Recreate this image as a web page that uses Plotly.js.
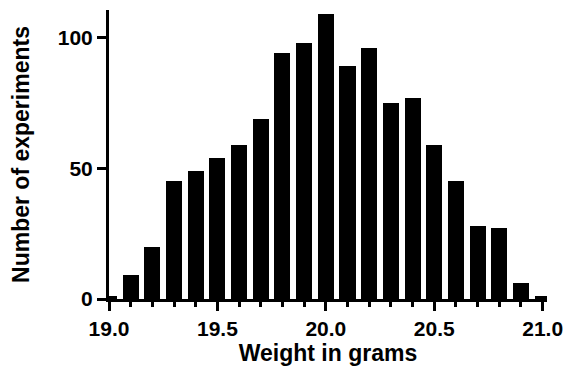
<!DOCTYPE html>
<html>
<head>
<meta charset="utf-8">
<script src="https://cdn.plot.ly/plotly-3.0.1.min.js"></script>
<style>html,body{margin:0;padding:0;background:#fff;}#chart{width:564px;height:366px;}</style>
</head>
<body>
<div id="chart"></div>
<script>
var weights = [19.0, 19.1, 19.2, 19.3, 19.4, 19.5, 19.6, 19.7, 19.8, 19.9, 20.0,
               20.1, 20.2, 20.3, 20.4, 20.5, 20.6, 20.7, 20.8, 20.9, 21.0];
var counts  = [1, 9, 20, 45, 49, 54, 59, 69, 94, 98, 109,
               89, 96, 75, 77, 59, 45, 28, 27, 6, 1];
var xTickVals = [19.0, 19.5, 20.0, 20.5, 21.0];
var xTickText = ['19.0', '19.5', '20.0', '20.5', '21.0'];
var yTickVals = [0, 50, 100];
var yTickText = ['0', '50', '100'];

var font = 'Liberation Sans, Arial, sans-serif';

var trace = {
  type: 'bar',
  x: weights,
  y: counts,
  width: 0.074,
  marker: {color: '#000000', line: {width: 0}},
  hoverinfo: 'x+y'
};

var layout = {
  width: 564,
  height: 366,
  margin: {l: 109, r: 17, t: 10, b: 67},
  paper_bgcolor: '#ffffff',
  plot_bgcolor: '#ffffff',
  showlegend: false,
  bargap: 0,
  font: {family: font, color: '#000000'},
  xaxis: {
    range: [19.0, 21.02],
    showgrid: false,
    zeroline: false,
    showline: true,
    linewidth: 3,
    linecolor: '#000000',
    ticks: 'outside',
    ticklen: 9,
    tickwidth: 3,
    tickcolor: '#000000',
    tickvals: xTickVals,
    ticktext: xTickText,
    ticklabeloverflow: 'allow',
    tickfont: {family: font, size: 21, color: '#000000', weight: 'bold'},
    minor: {dtick: 0.1, tick0: 19.0, ticks: 'outside', ticklen: 5, tickwidth: 3, tickcolor: '#000000', showgrid: false},
    title: {text: '<b>Weight in grams</b>', font: {family: font, size: 23, color: '#000000'}, standoff: 16}
  },
  yaxis: {
    range: [0, 110.6],
    showgrid: false,
    zeroline: false,
    showline: true,
    linewidth: 3,
    linecolor: '#000000',
    ticks: 'outside',
    ticklen: 9,
    tickwidth: 3,
    tickcolor: '#000000',
    tickvals: yTickVals,
    ticktext: yTickText,
    tickfont: {family: font, size: 21, color: '#000000', weight: 'bold'},
    title: {text: '<b>Number of experiments</b>', font: {family: font, size: 23, color: '#000000'}, standoff: 22}
  }
};

Plotly.newPlot('chart', [trace], layout, {displayModeBar: false, staticPlot: true});
</script>
</body>
</html>
